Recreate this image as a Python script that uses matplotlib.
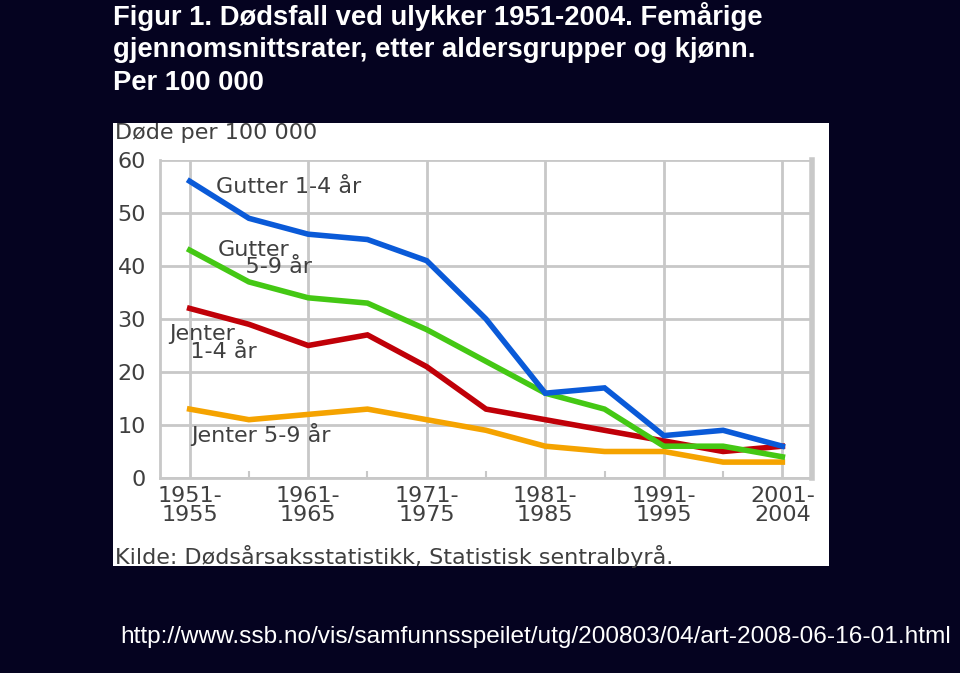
import matplotlib
matplotlib.use("Agg")
import matplotlib.pyplot as plt

# ---- data ----
periods = ["1951-\n1955", "1956-\n1960", "1961-\n1965", "1966-\n1970", "1971-\n1975",
           "1976-\n1980", "1981-\n1985", "1986-\n1990", "1991-\n1995", "1996-\n2000",
           "2001-\n2004"]
gutter_1_4 = [56, 49, 46, 45, 41, 30, 16, 17, 8, 9, 6]
gutter_5_9 = [43, 37, 34, 33, 28, 22, 16, 13, 6, 6, 4]
jenter_1_4 = [32, 29, 25, 27, 21, 13, 11, 9, 7, 5, 6]
jenter_5_9 = [13, 11, 12, 13, 11, 9, 6, 5, 5, 3, 3]
yticks = [0, 10, 20, 30, 40, 50, 60]

title_lines = ["Figur 1. Dødsfall ved ulykker 1951-2004. Femårige",
               "gjennomsnittsrater, etter aldersgrupper og kjønn.",
               "Per 100 000"]
url = "http://www.ssb.no/vis/samfunnsspeilet/utg/200803/04/art-2008-06-16-01.html"

BG = "#050320"
W, H = 960, 673
fig = plt.figure(figsize=(W / 100, H / 100), dpi=100, facecolor=BG)


def fx(px):
    return px / W


def fy(py):
    return 1 - py / H


# title
for line, base in zip(title_lines, [25, 57, 90]):
    fig.text(fx(113), fy(base), line, color="white", fontsize=19.7,
             fontweight="bold", family="Liberation Sans", ha="left", va="baseline")

# url
fig.text(fx(120), fy(643), url, color="white", fontsize=17.6,
         family="Liberation Sans", ha="left", va="baseline")

# white panel (the embedded chart image)
panel = fig.add_axes([fx(113), fy(566), fx(829) - fx(113), fy(123) - fy(566)])
panel.set_facecolor("white")
panel.set_xticks([]); panel.set_yticks([])
panel.set_xlim(0, 1); panel.set_ylim(0, 1)
for s in panel.spines.values():
    s.set_visible(False)

TXT = "#404040"
FONT = "DejaVu Sans"
FS = 16
panel.text((115 - 113) / 716, 1 - (133 - 123) / 443, "Døde per 100 000",
           transform=panel.transAxes, color=TXT, fontsize=FS, family=FONT,
           ha="left", va="center")
panel.text((115 - 113) / 716, 1 - (556 - 123) / 443,
           "Kilde: Dødsårsaksstatistikk, Statistisk sentralbyrå.",
           transform=panel.transAxes, color=TXT, fontsize=FS, family=FONT,
           ha="left", va="center")

# plot axes
ax = fig.add_axes([fx(160), fy(478), fx(812) - fx(160), fy(160) - fy(478)])
ax.set_facecolor("white")
x = list(range(len(periods)))
GRID = "#c8c8c8"
ax.plot(x, jenter_5_9, color="#f5a300", lw=4, solid_joinstyle="miter", zorder=3)
ax.plot(x, jenter_1_4, color="#c00008", lw=4, solid_joinstyle="miter", zorder=4)
ax.plot(x, gutter_5_9, color="#44c814", lw=4, solid_joinstyle="miter", zorder=5)
ax.plot(x, gutter_1_4, color="#0a5ad8", lw=4, solid_joinstyle="miter", zorder=6)

ax.set_xlim(-0.5, len(periods) - 0.5)
ax.set_ylim(0, 60)
ax.set_yticks(yticks)
ax.set_yticklabels([str(v) for v in yticks], fontsize=FS, family=FONT, color=TXT)
ax.set_xticks(x[::2])
ax.set_xticklabels(periods[::2], fontsize=FS, family=FONT, color=TXT,
                   linespacing=0.9)
ax.set_xticks(x[1::2], minor=True)
ax.tick_params(axis="y", length=0, pad=10)
ax.tick_params(axis="x", which="major", length=0, pad=6)
ax.tick_params(axis="x", which="minor", length=5, width=1.5, color=GRID,
               direction="in")
ax.grid(True, which="major", color=GRID, lw=2, zorder=1)
ax.set_axisbelow(True)
for side, s in ax.spines.items():
    s.set_color(GRID)
    s.set_linewidth(2)
ax.spines["right"].set_linewidth(4)
ax.spines["top"].set_visible(False)

# series labels
lab = dict(color=TXT, fontsize=FS, family=FONT, ha="left", va="center",
           zorder=7, linespacing=0.85)
ax.text(0.44, 54.9, "Gutter 1-4 år", **lab)
ax.text(0.47, 41.4, "Gutter\n    5-9 år", **lab)
ax.text(-0.35, 25.5, "Jenter\n   1-4 år", **lab)
ax.text(0.02, 8.3, "Jenter 5-9 år", **lab)

fig.savefig("out.png", dpi=100, facecolor=BG)
